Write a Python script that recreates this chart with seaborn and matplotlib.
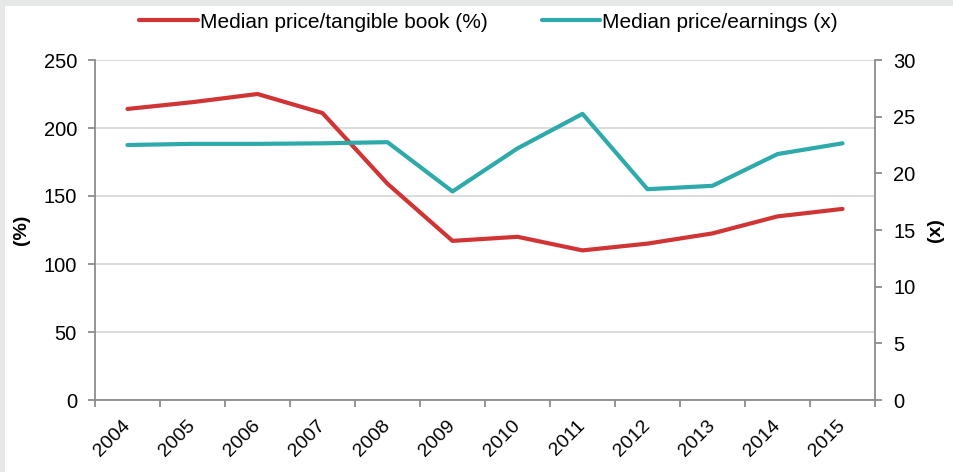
import numpy as np
import pandas as pd
import matplotlib.pyplot as plt
import matplotlib.patches as mpatches
from matplotlib.ticker import FixedLocator
import seaborn as sns

years = ['2004', '2005', '2006', '2007', '2008', '2009',
         '2010', '2011', '2012', '2013', '2014', '2015']
price_tbv = [214, 219, 225, 211, 159, 117, 120, 110, 115, 122.5, 135, 140.5]
price_pe = [22.5, 22.6, 22.6, 22.65, 22.75, 18.4, 22.2, 25.25, 18.6, 18.9, 21.7, 22.65]

lbl_tbv = 'Median price/tangible book (%)'
lbl_pe = 'Median price/earnings (x)'

red = '#D13434'
teal = '#2EAAAA'
grey = '#8C8C8C'

df = pd.DataFrame({'year': years, 'tbv': price_tbv, 'pe': price_pe})

sns.set_style('white')
plt.rcParams['font.family'] = ['Liberation Sans', 'DejaVu Sans']
plt.rcParams['text.color'] = 'black'
plt.rcParams['xtick.labelcolor'] = 'black'
plt.rcParams['ytick.labelcolor'] = 'black'
plt.rcParams['axes.labelcolor'] = 'black'

fig = plt.figure(figsize=(9.54, 4.72), dpi=100)
fig.patch.set_facecolor('#E6E8E8')
fig.patches.append(mpatches.Rectangle((5 / 954, 0), 1, 1 - 6 / 472, transform=fig.transFigure,
                                      facecolor='white', edgecolor='none', zorder=-10))

ax = fig.add_axes([95 / 954, 1 - 400 / 472, 780 / 954, 340 / 472])
ax.set_facecolor('none')
sns.lineplot(data=df, x='year', y='tbv', ax=ax, color=red, linewidth=3, label=lbl_tbv, legend=False)
ax2 = ax.twinx()
sns.lineplot(data=df, x='year', y='pe', ax=ax2, color=teal, linewidth=3, label=lbl_pe, legend=False)

ax.set_xlim(-0.5, len(years) - 0.5)
ax.set_ylim(0, 250)
ax.set_yticks(range(0, 251, 50))
ax2.set_ylim(0, 30)
ax2.set_yticks(range(0, 31, 5))

ax.yaxis.grid(True, color='#D9D9D9', linewidth=1.3)
ax.set_axisbelow(True)

for a in (ax, ax2):
    for s in a.spines.values():
        s.set_visible(False)
ax.spines['left'].set_visible(True)
ax.spines['bottom'].set_visible(True)
ax2.spines['right'].set_visible(True)
for s in (ax.spines['left'], ax.spines['bottom'], ax2.spines['right']):
    s.set_color(grey)
    s.set_linewidth(1.3)

ax.set_xticks(range(len(years)))
ax.set_xticklabels(years, rotation=45, ha='right', va='center', rotation_mode='anchor')
ax.xaxis.set_minor_locator(FixedLocator(np.arange(-0.5, len(years), 1.0)))
ax.tick_params(axis='x', which='major', length=0, pad=16.5, labelsize=14)
ax.tick_params(axis='x', which='minor', length=5, width=1.3, color=grey, direction='out', bottom=True)
ax.tick_params(axis='y', length=5, width=1.3, color=grey, direction='out', left=True, pad=8, labelsize=14.5)
ax2.tick_params(axis='y', length=5, width=1.3, color=grey, direction='out', right=True, pad=8, labelsize=14.5)

ax.set_xlabel('')
ax.set_ylabel('(%)', fontsize=14, fontweight='bold', labelpad=10)
ax2.set_ylabel('(x)', fontsize=14, fontweight='bold', labelpad=8)

h1, l1 = ax.get_legend_handles_labels()
h2, l2 = ax2.get_legend_handles_labels()
fig.legend(h1 + h2, l1 + l2, loc='center', bbox_to_anchor=(0.512, 0.953), ncol=2, frameon=False,
           fontsize=15, handlelength=2.8, handletextpad=0.1, columnspacing=2.6)

fig.savefig('out.png', dpi=100, facecolor=fig.get_facecolor())
